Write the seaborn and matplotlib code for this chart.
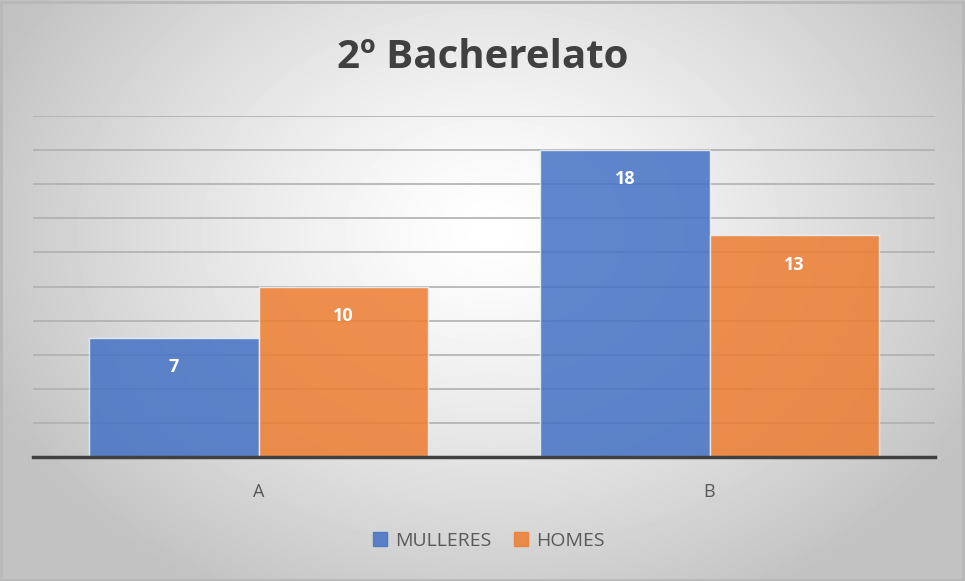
import numpy as np
import pandas as pd
import seaborn as sns
import matplotlib
matplotlib.use('Agg')
import matplotlib.pyplot as plt
from matplotlib.lines import Line2D

# data
groups = ['A', 'B']
mulleres = [7, 18]
homes = [10, 13]
series_names = ['MULLERES', 'HOMES']
colors = ['#4472C4', '#ED7D31']

df = pd.DataFrame({
    'grupo': groups * 2,
    'serie': [series_names[0]] * 2 + [series_names[1]] * 2,
    'valor': mulleres + homes,
})

sns.set_style('white')
plt.rcParams['font.family'] = ['Open Sans', 'DejaVu Sans']

fig = plt.figure(figsize=(9.65, 5.81), dpi=100)

# radial gradient background
bg = fig.add_axes([0, 0, 1, 1], zorder=-10)
yy, xx = np.mgrid[0:581, 0:965]
r = np.sqrt(((xx - 490) / 560.0) ** 2 + ((yy - 230) / 430.0) ** 2)
shade = np.clip(1.0 - 0.25 * r ** 1.3, 0.76, 1.0)
bg.imshow(shade, cmap='gray', vmin=0, vmax=1, aspect='auto', extent=[0, 1, 0, 1])
bg.set_xlim(0, 1)
bg.set_ylim(0, 1)
bg.axis('off')
bg.add_patch(plt.Rectangle((0.001, 0.002), 0.997, 0.995, fill=False,
                           edgecolor='#b8b8b8', linewidth=2, transform=bg.transAxes))

ax = fig.add_axes([33 / 965, 1 - 457 / 581, 902 / 965, 341 / 581])
ax.patch.set_alpha(0)

sns.barplot(data=df, x='grupo', y='valor', hue='serie', palette=colors,
            saturation=1, width=0.75, ax=ax, legend=False, alpha=0.85,
            edgecolor='#eef2f8', linewidth=1, zorder=3)

ax.set_ylim(0, 20)
ax.set_xlim(-0.5, 1.5)
ax.set_yticks(np.arange(0, 21, 2))
ax.yaxis.grid(True, color='#b0b0b0', linewidth=1.2, zorder=0)
ax.set_axisbelow(True)
ax.tick_params(axis='y', left=False, labelleft=False)
ax.tick_params(axis='x', bottom=False, labelsize=13, colors='#595959', pad=15)
ax.set_xlabel('')
ax.set_ylabel('')
for s in ['top', 'right', 'left']:
    ax.spines[s].set_visible(False)
ax.spines['bottom'].set_color('#404040')
ax.spines['bottom'].set_linewidth(2.5)
ax.spines['bottom'].set_zorder(5)

for cont in ax.containers:
    for bar in cont:
        h = bar.get_height()
        ax.text(bar.get_x() + bar.get_width() / 2, h - 1.72, f'{h:.0f}',
                ha='center', va='center', color='white', fontsize=13,
                fontweight='bold', zorder=6)

fig.suptitle('2º Bacherelato', y=1 - 57 / 581, va='center', fontsize=29,
             fontweight='bold', color='#404040')

handles = [Line2D([0], [0], marker='s', linestyle='', markersize=10,
                  markerfacecolor=c, markeredgecolor=c, alpha=0.85) for c in colors]
fig.legend(handles, series_names, loc='center', bbox_to_anchor=(488 / 965, 1 - 541 / 581),
           ncol=2, frameon=False, fontsize=14, handlelength=0.9, handletextpad=0.3,
           columnspacing=1.1, labelcolor='#595959')

fig.savefig('out.png', dpi=100)
